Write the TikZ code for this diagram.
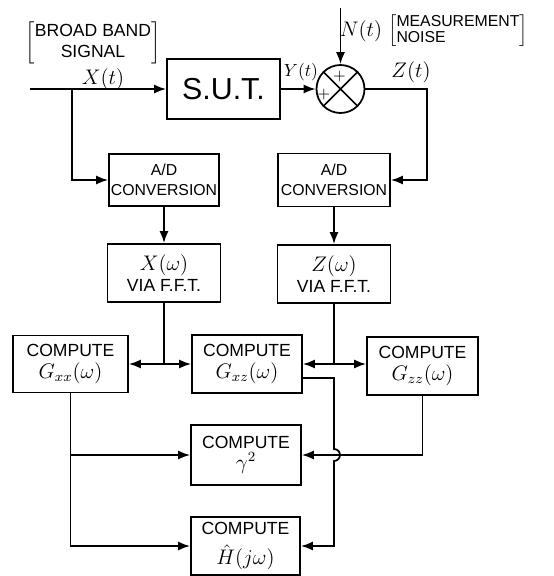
\documentclass[tikz,border=0pt]{standalone}
\usepackage{fontspec}
\setmainfont{Liberation Sans}
\usepackage{tikz}
\usetikzlibrary{positioning,arrows.meta,calc}
\tikzset{
  node-box/.style={draw,line width=1pt,minimum width=22mm,minimum height=11.6mm,
    inner sep=1pt,align=center,font=\normalsize},
  node-sum/.style={draw,line width=1pt,circle,minimum size=9.6mm,inner sep=0pt},
  node-label/.style={inner sep=1pt,font=\normalsize},
  % lines and arrow tips of the block diagram
  wire/.style={line width=1pt},
  arrow/.style={-{Latex[length=2.4mm,width=1.8mm]},line width=1pt},
}

\begin{document}
\begin{tikzpicture}[x=0.02cm,y=-0.02cm]
  \useasboundingbox (0,0) rectangle (554,576);
  % blocks
  \node[node-box,minimum width=22.6mm,minimum height=12mm,font=\LARGE] (sut) at (223.5,89) {S.U.T.};
  \node[node-sum] (sum) at (340.5,89) {};
  \node[node-box,minimum height=10.4mm,font=\small] (adx) at (164,180) {A/D\\CONVERSION};
  \node[node-box,minimum width=22.4mm,minimum height=10.6mm,font=\small] (adz) at (334,180) {A/D\\CONVERSION};
  \node[node-box,minimum width=22.6mm] (fftx) at (164,273) {\large$X(\omega)$\\VIA F.F.T.};
  \node[node-box,minimum width=22.6mm] (fftz) at (334,274) {\large$Z(\omega)$\\VIA F.F.T.};
  \node[node-box,minimum width=23mm,minimum height=11.4mm] (gxx) at (70.5,364) {COMPUTE\\\large$G_{xx}(\omega)$};
  \node[node-box] (gxz) at (247,364) {COMPUTE\\\large$G_{xz}(\omega)$};
  \node[node-box,minimum width=22.2mm] (gzz) at (422.5,366) {COMPUTE\\\large$G_{zz}(\omega)$};
  \node[node-box,minimum height=12mm] (gam) at (246,455) {COMPUTE\\\large$\gamma^{2}$};
  \node[node-box,minimum width=21.8mm] (hhat) at (245.5,546) {COMPUTE\\[5pt]\large$\hat{H}(j\omega)$};

  % labels
  \node[node-label] (lbb) at (93,43) {$\left[\mbox{\begin{tabular}{@{}c@{}}BROAD BAND\\SIGNAL\end{tabular}}\right]$};
  \node[node-label] (lxt) at (103,79) {\large$X(t)$};
  \node[node-label] (lyt) at (301,72) {$Y(t)$};
  \node[node-label] (lzt) at (411,72) {\large$Z(t)$};
  \node[node-label] (lnt) at (361,31) {\large$N(t)$};
  \node[node-label,font=\small] (lmn) at (458,31) {\renewcommand{\arraystretch}{0.8}$\left[\mbox{\begin{tabular}{@{}l@{}}MEASUREMENT\\NOISE\end{tabular}}\right]$};
  \node[node-label,font=\small] (ptop) at (339.5,77) {$+$};
  \node[node-label,font=\small] (pleft) at (324,95) {$+$};
  \draw[wire] (sum.north east) -- (sum.south west) (sum.north west) -- (sum.south east);

  % input side
  \coordinate (in) at (30,89);
  \coordinate (br) at (72,89);
  \coordinate (ntop) at (340.5,8);
  \coordinate (zc) at (427,89);
  \draw[arrow] (in) -- (sut.west);
  \draw[arrow] (br) |- (adx.west);
  \draw[arrow] (sut.east) -- (sum.west);
  \draw[arrow] (ntop) -- (sum.north);
  \draw[arrow] (sum.east) -- (zc) |- (adz.east);
  \draw[arrow] (adx) -- (fftx);
  \draw[arrow] (adz) -- (fftz);

  % spectra
  \coordinate (jx) at (fftx.south |- gxx.east);
  \coordinate (jz) at (fftz.south |- gxz.east);
  \draw[wire] (fftx.south) -- (jx);
  \draw[arrow] (jx) -- (gxx.east);
  \draw[arrow] (jx) -- (gxz.west);
  \draw[wire] (fftz.south) -- (jz);
  \draw[arrow] (jz) -- (gxz.east);
  \draw[arrow] (jz) -- (jz -| gzz.west);

  % outputs
  \coordinate (gxo) at ($(gxz.east)+(0,14)$);
  \coordinate (hv) at (gxo -| fftz.south);
  \draw[arrow] (gxx.south) |- (hhat.west);
  \draw[arrow] (gxx.south |- gam.west) -- (gam.west);
  \draw[arrow] (gzz.south) |- (gam.east);
  \draw[arrow] (gxo) -- (hv) -- ($(hv |- gam.east)+(0,-6)$)
    arc[start angle=-90,end angle=90,radius=6] -- (hv |- hhat.east) -- (hhat.east);
\end{tikzpicture}
\end{document}
